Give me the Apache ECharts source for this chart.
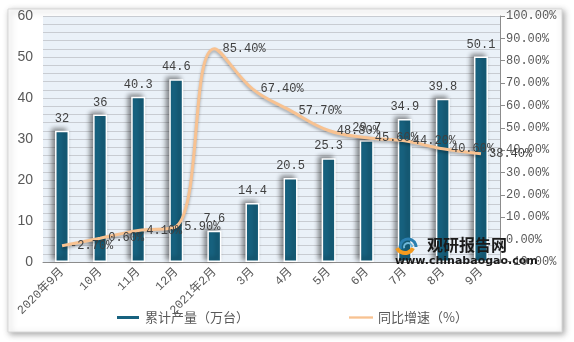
<!DOCTYPE html>
<html>
<head>
<meta charset="utf-8">
<script src="https://cdn.jsdelivr.net/npm/echarts@6/dist/echarts.min.js"></script>
<style>
html,body{margin:0;padding:0;background:#ffffff;}
#chart{width:574px;height:342px;}
</style>
</head>
<body>
<div id="chart"></div>
<script>
var categories = ['2020年9月','10月','11月','12月','2021年2月','3月','4月','5月','6月','7月','8月','9月'];
var production = [32, 36, 40.3, 44.6, 7.6, 14.4, 20.5, 25.3, 29.7, 34.9, 39.8, 50.1];
var growth = [-2.7, 0.6, 4.1, 5.9, 85.4, 67.4, 57.7, 48.8, 45.6, 44.2, 40.6, 38.4];
var leftTicks = [0, 10, 20, 30, 40, 50, 60];
var rightTicks = [-10, 0, 10, 20, 30, 40, 50, 60, 70, 80, 90, 100];

var FONT = '"Liberation Mono", "Noto Sans CJK SC", monospace';
var chart = echarts.init(document.getElementById('chart'));
chart.setOption({
  backgroundColor: '#ffffff',
  animation: false,
  graphic: [
    {type:'rect', z:-10, shape:{x:8,y:9,width:554,height:323}, style:{fill:'#ffffff', stroke:'#d9d9d9', lineWidth:1, shadowBlur:6, shadowColor:'rgba(0,0,0,0.35)', shadowOffsetX:2, shadowOffsetY:2}},
    {type:'arc', z:100, shape:{cx:408,cy:247,r:8,startAngle:Math.PI*0.9,endAngle:Math.PI*2.0}, style:{fill:'none', stroke:'#2a7fb0', lineWidth:3}},
    {type:'arc', z:100, shape:{cx:408,cy:247,r:4,startAngle:Math.PI*0.9,endAngle:Math.PI*2.0}, style:{fill:'none', stroke:'#6fb7d8', lineWidth:2}},
    {type:'arc', z:100, shape:{cx:405,cy:244,r:9,startAngle:Math.PI*0.15,endAngle:Math.PI*0.85}, style:{fill:'none', stroke:'#f39a1e', lineWidth:4}},
    {type:'text', z:100, left:427, top:237, style:{text:'观研报告网', font:'bold 16px "Noto Sans CJK SC"', fill:'#1a1a1a'}},
    {type:'text', z:100, left:395, top:256, style:{text:'www.chinabaogao.com', font:'bold 11px "DejaVu Sans"', fill:'#1a1a1a'}}
  ],
  grid: {left:43, right:74, top:16, bottom:80, show:true, backgroundColor:'#EAF1F8', borderWidth:0},
  legend: {
    bottom: 13, left: 110, itemGap: 100, itemWidth: 24, itemHeight: 5,
    textStyle: {fontFamily:'"Noto Sans CJK SC"', fontSize:13, color:'#595959'},
    data: [{name:'累计产量（万台）', icon:'rect'},
           {name:'同比增速（%）', icon:'path://M0,0 L26,0 L26,2.5 L0,2.5 Z', itemStyle:{color:'#F8C291'}}]
  },
  xAxis: {
    type:'category', data: categories,
    axisLine:{lineStyle:{color:'#8c8c8c'}},
    axisTick:{show:false},
    axisLabel:{rotate:45, interval:0, color:'#595959', fontFamily:FONT, fontSize:12, margin:8}
  },
  yAxis: [
    {type:'value', min:0, max:60, interval:10,
     axisLine:{show:false}, axisTick:{show:false},
     axisLabel:{color:'#595959', fontFamily:'"Liberation Sans"', fontSize:14, margin:10,
       formatter:function(v){return leftTicks.indexOf(v)>=0 ? String(v) : '';}},
     splitLine:{show:true, lineStyle:{color:'#c8ccd2', width:1}},
     minorTick:{show:false, splitNumber:5},
     minorSplitLine:{show:true, lineStyle:{color:'#c8ccd2', width:1}}
    },
    {type:'value', min:-10, max:100, interval:10, position:'right',
     axisLine:{show:true, lineStyle:{color:'#8c8c8c'}},
     axisTick:{show:true, length:5, lineStyle:{color:'#8c8c8c'}},
     axisLabel:{color:'#595959', fontFamily:FONT, fontSize:12, margin:6,
       formatter:function(v){return rightTicks.indexOf(v)>=0 ? v.toFixed(2)+'%' : '';}},
     splitLine:{show:false}
    }
  ],
  series: [
    {name:'累计产量（万台）', type:'bar', data: production, barWidth:14, yAxisIndex:0,
     itemStyle:{color:'#17627F', borderColor:'#ffffff', borderWidth:1.5,
       shadowBlur:5, shadowColor:'rgba(0,0,0,0.45)', shadowOffsetX:-3, shadowOffsetY:-2},
     label:{show:true, position:'top', distance:6, color:'#404040', fontFamily:FONT, fontSize:12}
    },
    {name:'同比增速（%）', type:'line', data: growth, yAxisIndex:1, smooth:0.4,
     symbol:'circle', symbolSize:0.1, showSymbol:true, z:5,
     lineStyle:{color:'#F8C291', width:3, shadowBlur:3, shadowColor:'rgba(0,0,0,0.3)', shadowOffsetY:2},
     itemStyle:{color:'#F8C291'},
     labelLayout:{hideOverlap:false},
     label:{show:true, position:'right', distance:8, color:'#404040', fontFamily:FONT, fontSize:12,
       formatter:function(p){return p.value.toFixed(2)+'%';}}
    }
  ]
});
</script>
</body>
</html>
